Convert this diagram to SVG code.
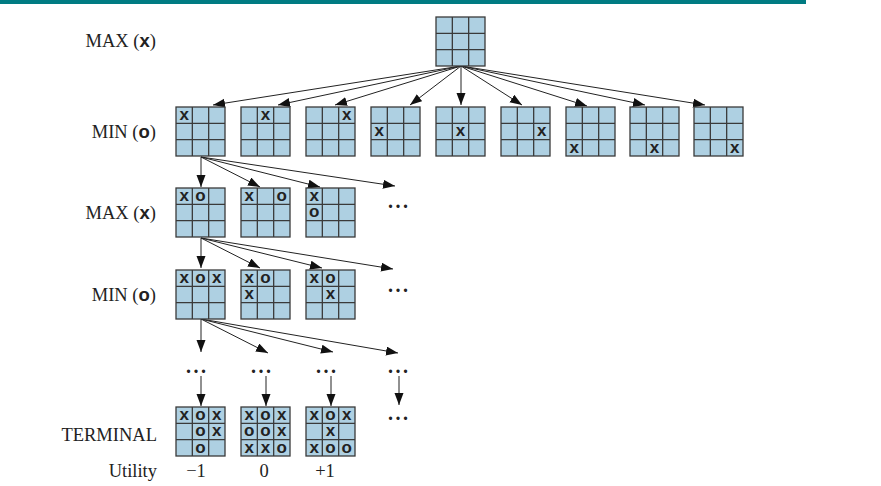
<svg xmlns="http://www.w3.org/2000/svg" xmlns:xlink="http://www.w3.org/1999/xlink" width="881" height="486" viewBox="0 0 881 486">
<style>
.cell{fill:#aed0e2;stroke:#3a3a3a;stroke-width:1.3}
.gl{stroke:#3a3a3a;stroke-width:1.3;fill:none}
.m{font-family:"Liberation Sans",Arial,sans-serif;font-weight:bold;font-size:17px;fill:#222;text-anchor:middle}
.lbl{font-family:"Liberation Serif","Times New Roman",serif;font-size:18.5px;fill:#222;text-anchor:end}
.lx{font-family:"Liberation Sans",Arial,sans-serif;font-weight:bold}
.num{font-family:"Liberation Serif","Times New Roman",serif;font-size:18.5px;fill:#222;text-anchor:middle}
.dots{font-family:"Liberation Serif","Times New Roman",serif;font-size:20px;font-weight:bold;fill:#222;letter-spacing:2.5px}
.arr{stroke:#222;stroke-width:1;fill:none;marker-end:url(#ah)}
</style>
<defs>
<marker id="ah" markerUnits="userSpaceOnUse" markerWidth="13" markerHeight="10" refX="12" refY="4.5" orient="auto">
<path d="M0,0 L12,4.5 L0,9 Z" fill="#111"/>
</marker>
<g id="board">
<rect class="cell" x="0" y="0" width="49" height="49"/>
<path class="gl" d="M16.33,0V49M32.67,0V49M0,16.33H49M0,32.67H49"/>
</g>
</defs>
<rect x="0" y="0" width="806" height="4" fill="#007b82"/>
<g id="labels">
<text class="lbl" x="156" y="47">MAX (<tspan class="lx">x</tspan>)</text>
<text class="lbl" x="156" y="138">MIN (<tspan class="lx">o</tspan>)</text>
<text class="lbl" x="156" y="219">MAX (<tspan class="lx">x</tspan>)</text>
<text class="lbl" x="156" y="301">MIN (<tspan class="lx">o</tspan>)</text>
<text class="lbl" x="157" y="441">TERMINAL</text>
<text class="lbl" x="157" y="477">Utility</text>
</g>
<g id="connectors">
<line class="arr" x1="461" y1="66" x2="213" y2="105"/>
<line class="arr" x1="461" y1="66" x2="278" y2="105"/>
<line class="arr" x1="461" y1="66" x2="335" y2="105"/>
<line class="arr" x1="461" y1="66" x2="410" y2="105"/>
<line class="arr" x1="461" y1="66" x2="461" y2="105"/>
<line class="arr" x1="461" y1="66" x2="522" y2="105"/>
<line class="arr" x1="461" y1="66" x2="587" y2="106"/>
<line class="arr" x1="461" y1="66" x2="645" y2="105"/>
<line class="arr" x1="461" y1="66" x2="705" y2="105"/>
<line class="arr" x1="201" y1="157" x2="201" y2="187"/>
<line class="arr" x1="201" y1="157" x2="260" y2="187"/>
<line class="arr" x1="201" y1="157" x2="320" y2="187"/>
<line class="arr" x1="201" y1="157" x2="395" y2="186"/>
<line class="arr" x1="201" y1="238" x2="201" y2="268"/>
<line class="arr" x1="201" y1="238" x2="260" y2="268"/>
<line class="arr" x1="201" y1="238" x2="322" y2="268"/>
<line class="arr" x1="201" y1="238" x2="393" y2="269"/>
<line class="arr" x1="201" y1="319" x2="201" y2="352"/>
<line class="arr" x1="201" y1="319" x2="268" y2="353"/>
<line class="arr" x1="201" y1="319" x2="333" y2="352"/>
<line class="arr" x1="201" y1="319" x2="398" y2="353"/>
<line class="arr" x1="201" y1="376" x2="201" y2="406"/>
<line class="arr" x1="266" y1="376" x2="266" y2="406"/>
<line class="arr" x1="331" y1="376" x2="331" y2="406"/>
<line class="arr" x1="399" y1="376" x2="399" y2="405"/>
</g>
<g id="ellipses">
<text class="dots" x="388" y="208">...</text>
<text class="dots" x="388" y="292">...</text>
<text class="dots" x="186" y="373">...</text>
<text class="dots" x="251" y="373">...</text>
<text class="dots" x="316" y="373">...</text>
<text class="dots" x="388" y="373">...</text>
<text class="dots" x="388" y="420">...</text>
</g>
<g id="root"><use xlink:href="#board" x="436" y="17"/></g>
<g id="min1"><use xlink:href="#board" x="176" y="107"/><text class="m" x="184.2" y="120">x</text></g>
<g id="min2"><use xlink:href="#board" x="241" y="107"/><text class="m" x="265.5" y="120">x</text></g>
<g id="min3"><use xlink:href="#board" x="306" y="107"/><text class="m" x="346.8" y="120">x</text></g>
<g id="min4"><use xlink:href="#board" x="371" y="107"/><text class="m" x="379.2" y="136">x</text></g>
<g id="min5"><use xlink:href="#board" x="436" y="107"/><text class="m" x="460.5" y="136">x</text></g>
<g id="min6"><use xlink:href="#board" x="501" y="107"/><text class="m" x="541.8" y="136">x</text></g>
<g id="min7"><use xlink:href="#board" x="566" y="107"/><text class="m" x="574.2" y="153">x</text></g>
<g id="min8"><use xlink:href="#board" x="630" y="107"/><text class="m" x="654.5" y="153">x</text></g>
<g id="min9"><use xlink:href="#board" x="694" y="107"/><text class="m" x="734.8" y="153">x</text></g>
<g id="max1"><use xlink:href="#board" x="176" y="188"/><text class="m" x="184.2" y="201">x</text><text class="m" x="200.5" y="201">o</text></g>
<g id="max2"><use xlink:href="#board" x="241" y="188"/><text class="m" x="249.2" y="201">x</text><text class="m" x="281.8" y="201">o</text></g>
<g id="max3"><use xlink:href="#board" x="306" y="188"/><text class="m" x="314.2" y="201">x</text><text class="m" x="314.2" y="217">o</text></g>
<g id="minb1"><use xlink:href="#board" x="176" y="270"/><text class="m" x="184.2" y="283">x</text><text class="m" x="200.5" y="283">o</text><text class="m" x="216.8" y="283">x</text></g>
<g id="minb2"><use xlink:href="#board" x="241" y="270"/><text class="m" x="249.2" y="283">x</text><text class="m" x="265.5" y="283">o</text><text class="m" x="249.2" y="299">x</text></g>
<g id="minb3"><use xlink:href="#board" x="306" y="270"/><text class="m" x="314.2" y="283">x</text><text class="m" x="330.5" y="283">o</text><text class="m" x="330.5" y="299">x</text></g>
<g id="term1"><use xlink:href="#board" x="176" y="407"/>
<text class="m" x="184.2" y="420">x</text><text class="m" x="200.5" y="420">o</text><text class="m" x="216.8" y="420">x</text>
<text class="m" x="200.5" y="436">o</text><text class="m" x="216.8" y="436">x</text>
<text class="m" x="200.5" y="453">o</text></g>
<g id="term2"><use xlink:href="#board" x="241" y="407"/>
<text class="m" x="249.2" y="420">x</text><text class="m" x="265.5" y="420">o</text><text class="m" x="281.8" y="420">x</text>
<text class="m" x="249.2" y="436">o</text><text class="m" x="265.5" y="436">o</text><text class="m" x="281.8" y="436">x</text>
<text class="m" x="249.2" y="453">x</text><text class="m" x="265.5" y="453">x</text><text class="m" x="281.8" y="453">o</text></g>
<g id="term3"><use xlink:href="#board" x="306" y="407"/>
<text class="m" x="314.2" y="420">x</text><text class="m" x="330.5" y="420">o</text><text class="m" x="346.8" y="420">x</text>
<text class="m" x="330.5" y="436">x</text>
<text class="m" x="314.2" y="453">x</text><text class="m" x="330.5" y="453">o</text><text class="m" x="346.8" y="453">o</text></g>
<g id="utility">
<text class="num" x="196" y="477">−1</text>
<text class="num" x="264" y="477">0</text>
<text class="num" x="325" y="477">+1</text>
</g>
</svg>
